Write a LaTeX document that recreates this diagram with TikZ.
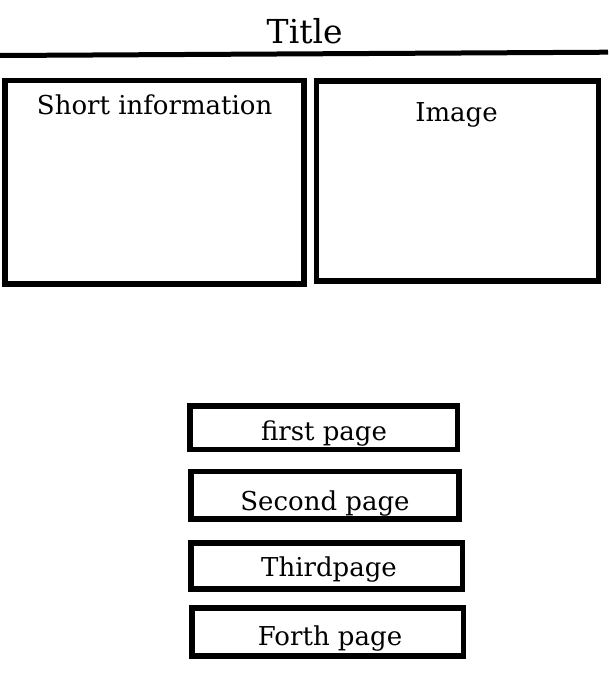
\documentclass[tikz,border=0pt]{standalone}
\usepackage{fontspec}
\setmainfont{DejaVu Serif}
\begin{document}
\begin{tikzpicture}[x=1pt,y=-1pt,
  frame/.style={draw=black,line width=5.5pt,rectangle,inner sep=0pt,fill=none},
  label/.style={anchor=base,inner sep=0pt,font=\fontsize{26}{30}\selectfont},
  titletext/.style={anchor=base,inner sep=0pt,font=\fontsize{33}{38}\selectfont}]
  \useasboundingbox[fill=white] (0,0) rectangle (608,691);

  % heading and rule
  \node[titletext] (title) at (304.7,43.3) {Title};
  \coordinate (ruleL) at (0,55.5);
  \coordinate (ruleR) at (608,52.2);
  \draw[line width=5pt] (ruleL) -- (ruleR);

  % upper panels
  \node[frame,minimum width=299.2pt,minimum height=203.9pt] (info) at (154.6,182.25) {};
  \node[label] (infotext) at (154.7,114) {Short information};
  \node[frame,minimum width=281.8pt,minimum height=200pt] (img) at (457.6,181) {};
  \node[label] (imgtext) at (456.5,121.7) {Image};

  % page buttons
  \node[frame,minimum width=267.5pt,minimum height=43.5pt] (p1) at (323.75,427.75) {};
  \node[label] (p1text) at (324,440.7) {first page};
  \node[frame,minimum width=268pt,minimum height=47.3pt] (p2) at (325,495.35) {};
  \node[label] (p2text) at (325,510) {Second page};
  \node[frame,minimum width=271.5pt,minimum height=46pt] (p3) at (326.75,566) {};
  \node[label] (p3text) at (329,576.7) {Thirdpage};
  \node[frame,minimum width=271.5pt,minimum height=48pt] (p4) at (327.75,632) {};
  \node[label] (p4text) at (330,645) {Forth page};
\end{tikzpicture}
\end{document}
